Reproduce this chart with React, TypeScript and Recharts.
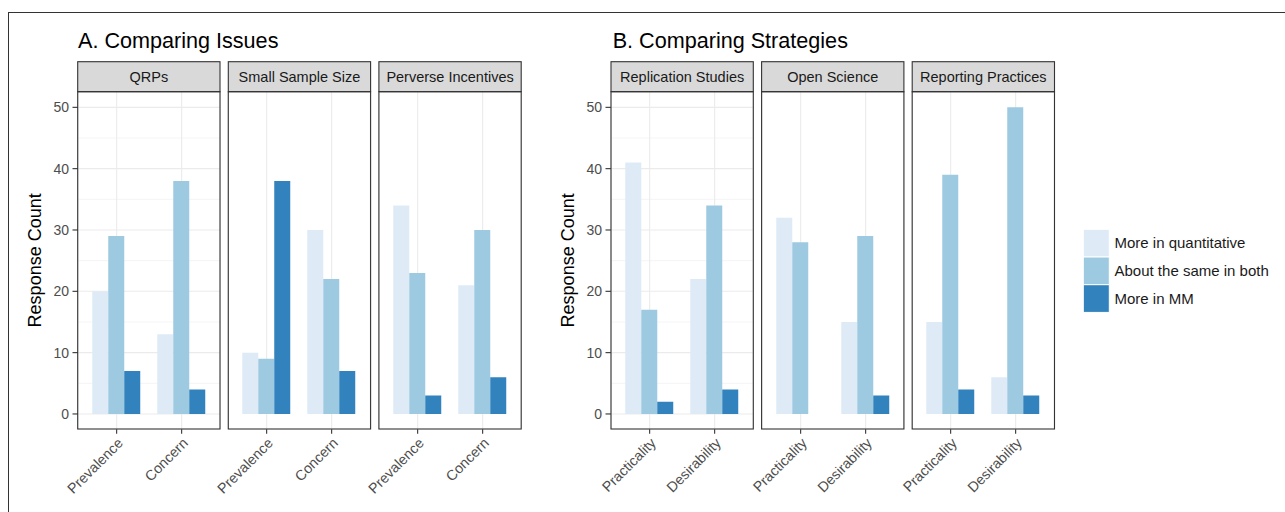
import React from 'react';
import { BarChart, Bar, XAxis, YAxis, CartesianGrid } from 'recharts';

const FONT = '"Liberation Sans", Arial, sans-serif';

const seriesNames = ['More in quantitative', 'About the same in both', 'More in MM'];
const seriesKeys = ['quant', 'same', 'mm'];
const COLORS = ['#deebf7', '#9ecae1', '#3182bd'];

const yTicks = [0, 10, 20, 30, 40, 50];
const yMinorTicks = [5, 15, 25, 35, 45];

// A. Comparing Issues
const issueFacets = ['QRPs', 'Small Sample Size', 'Perverse Incentives'];
const issueCategories = ['Prevalence', 'Concern'];
const issueQuant = [[20, 13], [10, 30], [34, 21]];
const issueSame = [[29, 38], [9, 22], [23, 30]];
const issueMM = [[7, 4], [38, 7], [3, 6]];

// B. Comparing Strategies
const strategyFacets = ['Replication Studies', 'Open Science', 'Reporting Practices'];
const strategyCategories = ['Practicality', 'Desirability'];
const strategyQuant = [[41, 22], [32, 15], [15, 6]];
const strategySame = [[17, 34], [28, 29], [39, 50]];
const strategyMM = [[2, 4], [0, 3], [4, 3]];

// layout
const PANEL_W = 142.3;
const PANEL_H = 337.3;
const PANEL_TOP = 91.7;
const STRIP_H = 30;
const FACET_STEP = 150.6;
const AXIS_W = 60;
const GROUP_A_LEFT = 77.7;
const GROUP_B_LEFT = 611;

const AngledTick = (props: any) => {
  const { x, y, payload } = props;
  return (
    <text
      x={x}
      y={y}
      dy="0.71em"
      transform={`rotate(-45 ${x} ${y})`}
      textAnchor="end"
      fill="#4d4d4d"
      fontSize={14.3}
      fontFamily={FONT}
    >
      {payload.value}
    </text>
  );
};

interface FacetProps {
  left: number;
  categories: string[];
  quant: number[];
  same: number[];
  mm: number[];
  showY: boolean;
}

const Facet: React.FC<FacetProps> = ({ left, categories, quant, same, mm, showY }) => {
  const data = categories.map((c, i) => ({ name: c, quant: quant[i], same: same[i], mm: mm[i] }));
  return (
    <div style={{ position: 'absolute', left: left - AXIS_W, top: PANEL_TOP }}>
      <BarChart
        width={AXIS_W + PANEL_W + 6}
        height={PANEL_H + 70}
        data={data}
        margin={{ top: 0, right: 6, bottom: 0, left: 0 }}
        barCategoryGap={8.1}
        barGap={0}
      >
        <CartesianGrid vertical={false} horizontalValues={yMinorTicks} stroke="#ebebeb" strokeWidth={0.55} />
        <CartesianGrid horizontalValues={yTicks} stroke="#ebebeb" strokeWidth={1.1} />
        <XAxis
          dataKey="name"
          padding={{ left: 6.15, right: 6.15 }}
          height={70}
          interval={0}
          axisLine={false}
          tickLine={{ stroke: '#333333', strokeWidth: 1.1 }}
          tickSize={4.5}
          tickMargin={3}
          tick={(p: any) => <AngledTick {...p} />}
        />
        <YAxis
          type="number"
          domain={[-2.5, 52.5]}
          ticks={yTicks}
          allowDataOverflow
          width={AXIS_W}
          axisLine={false}
          tick={showY ? { fill: '#4d4d4d', fontSize: 14, fontFamily: FONT } : false}
          tickLine={showY ? { stroke: '#333333', strokeWidth: 1.1 } : false}
          tickSize={5.5}
          tickMargin={3.5}
        />
        {seriesKeys.map((k, i) => (
          <Bar key={k} dataKey={k} name={seriesNames[i]} fill={COLORS[i]} isAnimationActive={false} />
        ))}
      </BarChart>
    </div>
  );
};

const FacetFrames = ({ groupLeft, titles }: { groupLeft: number; titles: string[] }) => (
  <g>
    {titles.map((t, i) => {
      const x = groupLeft + i * FACET_STEP;
      return (
        <g key={t}>
          <rect x={x} y={PANEL_TOP - STRIP_H} width={PANEL_W} height={STRIP_H} fill="#d9d9d9" stroke="#333333" strokeWidth={1.1} />
          <text x={x + PANEL_W / 2} y={PANEL_TOP - STRIP_H / 2 + 5} textAnchor="middle" fontSize={14.5} fill="#1a1a1a" fontFamily={FONT}>
            {t}
          </text>
          <rect x={x} y={PANEL_TOP} width={PANEL_W} height={PANEL_H} fill="none" stroke="#333333" strokeWidth={1.1} />
        </g>
      );
    })}
  </g>
);

const App: React.FC = () => {
  const yMid = PANEL_TOP + PANEL_H / 2;
  return (
    <div style={{ position: 'absolute', left: 0, top: 0, width: 1285, height: 512, overflow: 'hidden', background: '#fff', fontFamily: FONT }}>
      {issueFacets.map((f, i) => (
        <Facet
          key={f}
          left={GROUP_A_LEFT + i * FACET_STEP}
          categories={issueCategories}
          quant={issueQuant[i]}
          same={issueSame[i]}
          mm={issueMM[i]}
          showY={i === 0}
        />
      ))}
      {strategyFacets.map((f, i) => (
        <Facet
          key={f}
          left={GROUP_B_LEFT + i * FACET_STEP}
          categories={strategyCategories}
          quant={strategyQuant[i]}
          same={strategySame[i]}
          mm={strategyMM[i]}
          showY={i === 0}
        />
      ))}
      <svg width={1285} height={512} style={{ position: 'absolute', left: 0, top: 0, pointerEvents: 'none' }}>
        <rect x={8.5} y={12.5} width={1400} height={600} fill="none" stroke="#333333" strokeWidth={1} />

        <text x={78} y={47.7} fontSize={21.6} fill="#000" fontFamily={FONT}>A. Comparing Issues</text>
        <text x={612.7} y={47.7} fontSize={21.6} fill="#000" fontFamily={FONT}>B. Comparing Strategies</text>

        <FacetFrames groupLeft={GROUP_A_LEFT} titles={issueFacets} />
        <FacetFrames groupLeft={GROUP_B_LEFT} titles={strategyFacets} />

        <text x={GROUP_A_LEFT - 43} y={yMid} transform={`rotate(-90 ${GROUP_A_LEFT - 43} ${yMid})`} textAnchor="middle" dominantBaseline="central" fontSize={18} fill="#000" fontFamily={FONT}>
          Response Count
        </text>
        <text x={GROUP_B_LEFT - 43} y={yMid} transform={`rotate(-90 ${GROUP_B_LEFT - 43} ${yMid})`} textAnchor="middle" dominantBaseline="central" fontSize={18} fill="#000" fontFamily={FONT}>
          Response Count
        </text>

        {seriesNames.map((s, i) => {
          const y = 229.3 + i * 27.7;
          return (
            <g key={s}>
              <rect x={1083.3} y={y} width={26} height={27.7} fill={COLORS[i]} stroke="#ffffff" strokeWidth={1} />
              <text x={1114.5} y={y + 13.85 + 5.3} fontSize={15} fill="#1a1a1a" fontFamily={FONT}>{s}</text>
            </g>
          );
        })}
      </svg>
    </div>
  );
};

export default App;
